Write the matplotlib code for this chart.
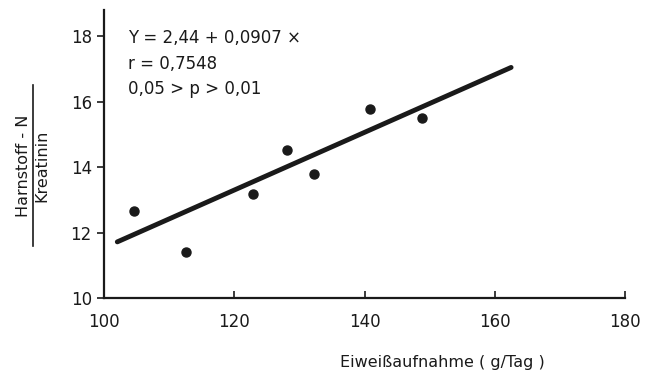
import numpy as np
import matplotlib.pyplot as plt
from matplotlib.lines import Line2D

# Messpunkte
eiweiss = [104.5, 112.6, 122.9, 128.0, 132.2, 140.8, 148.8]
quotient = [12.65, 11.42, 13.17, 14.52, 13.78, 15.78, 15.50]

# Regressionsgerade (Endpunkte wie gezeichnet)
linie_x = [102.0, 162.5]
linie_y = [11.72, 17.05]

x_ticks = [100, 120, 140, 160, 180]
y_ticks = [10, 12, 14, 16, 18]

farbe = '#1a1a1a'
plt.rcParams['font.family'] = ['DejaVu Sans']

fig = plt.figure(figsize=(6.6, 3.76), dpi=100)
ax = fig.add_axes([0.158, 0.207, 0.789, 0.766])

ax.plot(linie_x, linie_y, color=farbe, lw=3.5, solid_capstyle='round')
ax.plot(eiweiss, quotient, 'o', color=farbe, ms=6.5)

ax.set_xlim(100, 180)
ax.set_ylim(10, 18.8)
ax.set_xticks(x_ticks)
ax.set_yticks(y_ticks)
ax.spines['top'].set_visible(False)
ax.spines['right'].set_visible(False)
ax.spines['left'].set_linewidth(1.6)
ax.spines['bottom'].set_linewidth(1.6)
ax.spines['left'].set_color(farbe)
ax.spines['bottom'].set_color(farbe)
ax.tick_params(axis='x', direction='in', length=5, width=1.2, colors=farbe,
               labelsize=12, pad=11)
ax.tick_params(axis='y', direction='out', length=5, width=1.2, colors=farbe,
               labelsize=12, pad=4)

ax.text(0.046, 0.935, 'Y = 2,44 + 0,0907 ×\nr = 0,7548\n0,05 > p > 0,01',
        transform=ax.transAxes, ha='left', va='top', fontsize=12,
        color=farbe, linespacing=1.55)

fig.text(0.671, 0.037, 'Eiweißaufnahme ( g/Tag )', ha='center', va='center',
         fontsize=11.5, color=farbe)

# Bruch als y-Beschriftung
fig.text(0.035, 0.56, 'Harnstoff - N', rotation=90, ha='center', va='center',
         fontsize=11.5, color=farbe)
fig.text(0.064, 0.56, 'Kreatinin', rotation=90, ha='center', va='center',
         fontsize=11.5, color=farbe)
fig.add_artist(Line2D([0.05, 0.05], [0.345, 0.775], transform=fig.transFigure,
                      color=farbe, lw=1.2))

plt.savefig('out.png', dpi=100)
